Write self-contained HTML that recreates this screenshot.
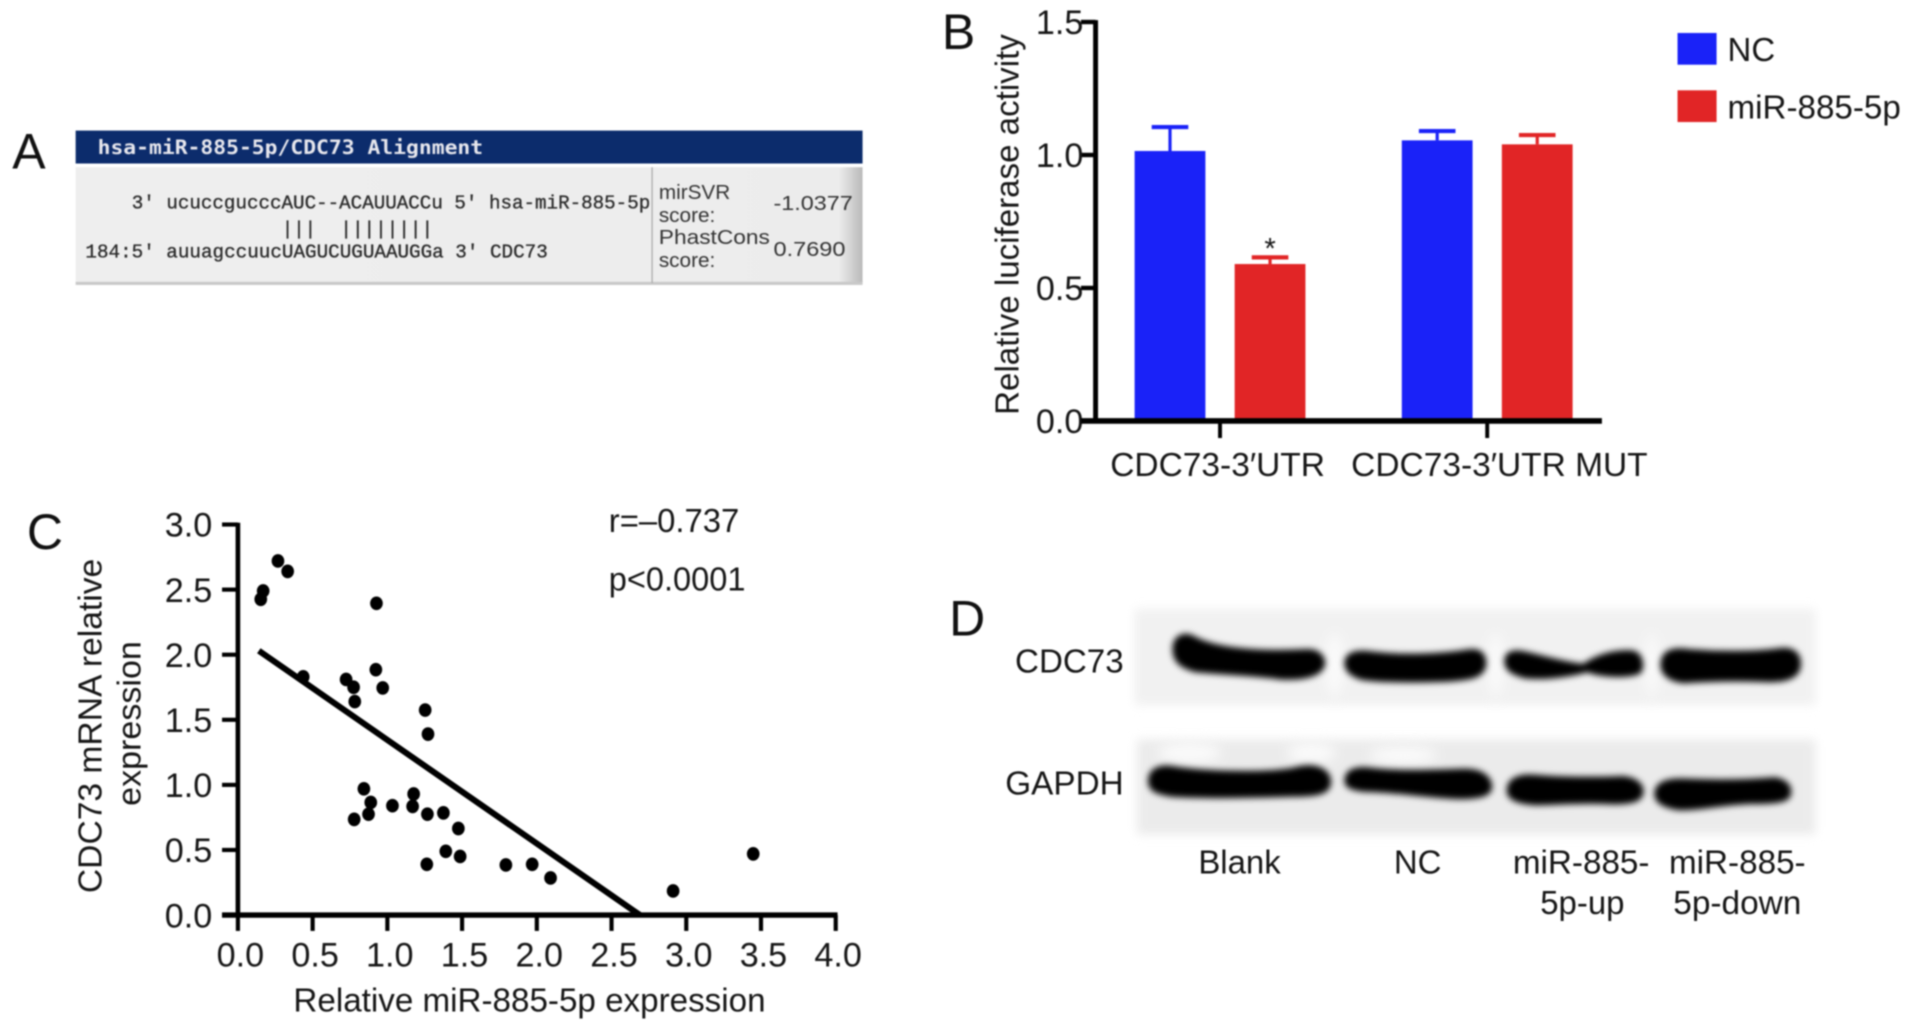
<!DOCTYPE html>
<html lang="en">
<head>
<meta charset="utf-8">
<title>CDC73 and miR-885-5p figure</title>
<style>
html,body{margin:0;padding:0;background:#fff;width:1913px;height:1031px;overflow:hidden}
svg{display:block;filter:blur(.7px)}
text{font-family:"Liberation Sans",Arial,sans-serif;fill:#161616}
.mono{font-family:"Liberation Mono","DejaVu Sans Mono",monospace;font-size:15.7px;fill:#2a2a2a;stroke:#2a2a2a;stroke-width:.25px;white-space:pre}
.small{font-size:17px;fill:#333}
.letter{font-size:41px;fill:#111}
.lab{font-size:27px}
.tk{font-size:28px}
</style>
</head>
<body>
<svg id="fig" xmlns="http://www.w3.org/2000/svg" width="1913" height="1031" viewBox="0 0 1568 845">
<defs>
<filter id="b0" x="-10%" y="-30%" width="120%" height="160%"><feGaussianBlur stdDeviation="4"/></filter>
<filter id="b1" x="-20%" y="-40%" width="140%" height="180%"><feGaussianBlur stdDeviation="2.6"/></filter>
<filter id="b2" x="-20%" y="-40%" width="140%" height="180%"><feGaussianBlur stdDeviation="5"/></filter>
<linearGradient id="panelGrad" x1="0" x2="1" y1="0" y2="0">
<stop offset="0" stop-color="#eeeeee"/><stop offset=".97" stop-color="#ececec"/><stop offset="1" stop-color="#b9b9b9"/>
</linearGradient>
</defs>

<!-- Panel A -->
<g id="panel-a">
<text class="letter" x="10" y="138">A</text>
<rect x="62" y="107" width="645" height="27" fill="#0c2c6c"/>
<text x="80" y="126" textLength="316" lengthAdjust="spacingAndGlyphs" style="font-family:'DejaVu Sans Mono','Liberation Mono',monospace;font-size:16px;font-weight:bold;fill:#e8e8ee">hsa-miR-885-5p/CDC73 Alignment</text>
<rect x="62" y="137" width="645" height="95" fill="url(#panelGrad)"/>
<rect x="62" y="231" width="645" height="2.5" fill="#c8c8c8"/>
<rect x="534" y="137" width="1" height="95" fill="#a8a8a8"/>
<text class="mono" x="108" y="171" textLength="425" lengthAdjust="spacingAndGlyphs">3' ucuccgucccAUC--ACAUUACCu 5' hsa-miR-885-5p</text>
<text class="mono" x="231" y="192" textLength="28" lengthAdjust="spacingAndGlyphs">|||</text>
<text class="mono" x="279" y="192" textLength="76" lengthAdjust="spacingAndGlyphs">||||||||</text>
<text class="mono" x="70" y="211" textLength="379" lengthAdjust="spacingAndGlyphs">184:5' auuagccuucUAGUCUGUAAUGGa 3' CDC73</text>
<text class="small" x="540" y="163">mirSVR</text>
<text class="small" x="540" y="182">score:</text>
<text class="small" x="540" y="200" textLength="91" lengthAdjust="spacingAndGlyphs">PhastCons</text>
<text class="small" x="540" y="219">score:</text>
<text class="small" x="634" y="172" textLength="65" lengthAdjust="spacingAndGlyphs">-1.0377</text>
<text class="small" x="634" y="210" textLength="59" lengthAdjust="spacingAndGlyphs">0.7690</text>
</g>

<!-- Panel B static -->
<text class="letter" x="772" y="40">B</text>
<text class="lab" transform="translate(835,184) rotate(-90)" text-anchor="middle" textLength="312" lengthAdjust="spacingAndGlyphs">Relative luciferase activity</text>
<g id="bar-chart"></g>
<g>
<rect x="1375" y="27" width="32" height="26" fill="#1a22f8"/>
<text class="lab" x="1416" y="50">NC</text>
<rect x="1375" y="74" width="32" height="26" fill="#e12526"/>
<text class="lab" x="1416" y="97" textLength="142" lengthAdjust="spacingAndGlyphs">miR-885-5p</text>
</g>

<!-- Panel C static -->
<text class="letter" x="22" y="450">C</text>
<text class="lab" transform="translate(83,595) rotate(-90)" text-anchor="middle" textLength="274" lengthAdjust="spacingAndGlyphs">CDC73 mRNA relative</text>
<text class="lab" transform="translate(115,593) rotate(-90)" text-anchor="middle" textLength="135" lengthAdjust="spacingAndGlyphs">expression</text>
<text class="lab" x="434" y="829" text-anchor="middle" textLength="387" lengthAdjust="spacingAndGlyphs">Relative miR-885-5p expression</text>
<text class="lab" x="499" y="436" textLength="107" lengthAdjust="spacingAndGlyphs">r=–0.737</text>
<text class="lab" x="499" y="484" textLength="112" lengthAdjust="spacingAndGlyphs">p&lt;0.0001</text>
<g id="scatter-chart"></g>

<!-- Panel D -->
<g id="panel-d">
<text class="letter" x="778" y="521">D</text>
<rect x="930" y="499" width="558" height="79" fill="#f1f1f1" filter="url(#b0)"/>
<rect x="932" y="606" width="556" height="78" fill="#ebebeb" filter="url(#b0)"/>
<g filter="url(#b2)" fill="#fbfbfb">
<ellipse cx="1094" cy="545" rx="7" ry="26"/><ellipse cx="1226" cy="545" rx="6" ry="26"/><ellipse cx="1354" cy="545" rx="5" ry="26"/>
<ellipse cx="975" cy="617" rx="26" ry="8"/><ellipse cx="1075" cy="617" rx="20" ry="8"/><ellipse cx="1150" cy="619" rx="28" ry="7"/>
</g>
<g filter="url(#b1)" fill="#030303" stroke="#030303" stroke-width="2">
<path d="M962 532C962 522 970 518 978 522C996 532 1030 535 1070 533C1082 532 1086 540 1085 545C1083 553 1070 557 1050 556C1030 553 1000 552 980 550C968 547 962 542 962 532Z"/>
<path d="M1103 545C1102 535 1112 533 1125 535C1150 538 1180 537 1205 533C1216 532 1218 540 1217 546C1215 555 1205 557 1180 558C1150 559 1125 558 1115 556C1107 553 1104 550 1103 545Z"/>
<path d="M1234 542C1234 534 1242 533 1250 535C1268 539 1285 544 1298 545C1308 538 1322 533 1338 534C1347 536 1347 548 1344 551C1336 555 1315 555 1301 550C1290 553 1268 557 1250 555C1238 552 1234 548 1234 542Z"/>
<path d="M1362 545C1362 533 1372 531 1385 533C1410 535 1440 535 1460 532C1472 531 1476 538 1475 546C1474 555 1464 559 1445 558C1420 557 1395 558 1380 559C1368 558 1362 552 1362 545Z"/>
<path d="M942 640C942 630 952 627 962 629C985 633 1045 635 1065 629C1080 626 1090 632 1090 641C1090 650 1080 652 1060 652C1030 653 990 654 960 652C948 650 942 648 942 640Z"/>
<path d="M1103 640C1103 631 1112 629 1122 630C1145 633 1175 632 1200 631C1216 631 1222 638 1222 645C1222 652 1212 654 1195 654C1170 653 1140 648 1118 648C1108 647 1103 645 1103 640Z"/>
<path d="M1236 648C1236 638 1246 635 1258 636C1280 638 1310 638 1330 637C1342 638 1347 644 1346 650C1345 657 1335 659 1315 658C1295 657 1275 659 1258 659C1244 658 1236 655 1236 648Z"/>
<path d="M1357 651C1357 642 1366 639 1378 639C1400 640 1430 640 1455 638C1465 640 1468 645 1467 651C1466 657 1455 658 1435 658C1410 659 1390 664 1375 663C1363 661 1357 657 1357 651Z"/>
</g>
<text class="lab" x="921" y="551" text-anchor="end" textLength="89" lengthAdjust="spacingAndGlyphs">CDC73</text>
<text class="lab" x="921" y="651" text-anchor="end" textLength="97" lengthAdjust="spacingAndGlyphs">GAPDH</text>
<text class="lab" x="1016" y="716" text-anchor="middle">Blank</text>
<text class="lab" x="1162" y="716" text-anchor="middle">NC</text>
<text class="lab" x="1296" y="716" text-anchor="middle" textLength="112" lengthAdjust="spacingAndGlyphs">miR-885-</text>
<text class="lab" x="1297" y="749" text-anchor="middle">5p-up</text>
<text class="lab" x="1424" y="716" text-anchor="middle" textLength="112" lengthAdjust="spacingAndGlyphs">miR-885-</text>
<text class="lab" x="1424" y="749" text-anchor="middle" textLength="105" lengthAdjust="spacingAndGlyphs">5p-down</text>
</g>
</svg>

<script>
// Panel B data
const barCategories = ['CDC73-3\u2032UTR', 'CDC73-3\u2032UTR MUT'];
const ncValues = [1.015, 1.055];
const ncErrors = [0.09, 0.035];
const mirValues = [0.59, 1.04];
const mirErrors = [0.025, 0.035];
const barYTicks = [0, 0.5, 1, 1.5];
const barYTickLabels = ['0.0', '0.5', '1.0', '1.5'];

// Panel C data
const scatterX = [0.153,0.169,0.268,0.333,0.927,0.437,0.724,0.774,0.782,0.923,0.969,1.253,1.272,0.843,0.889,0.874,0.778,1.034,1.176,1.169,1.268,1.375,1.475,1.391,1.487,1.264,1.793,1.969,2.092,2.912,3.448];
const scatterY = [2.426,2.49,2.72,2.64,2.395,1.83,1.81,1.75,1.64,1.885,1.745,1.575,1.39,0.97,0.865,0.775,0.735,0.84,0.93,0.835,0.775,0.785,0.665,0.49,0.45,0.39,0.385,0.39,0.285,0.185,0.47];
const fitX = [0.14, 2.69];
const fitY = [2.03, 0];
const scatterXTicks = [0, 0.5, 1, 1.5, 2, 2.5, 3, 3.5, 4];
const scatterXTickLabels = ['0.0','0.5','1.0','1.5','2.0','2.5','3.0','3.5','4.0'];
const scatterYTicks = [0, 0.5, 1, 1.5, 2, 2.5, 3];
const scatterYTickLabels = ['0.0','0.5','1.0','1.5','2.0','2.5','3.0'];

const NS = 'http://www.w3.org/2000/svg';
function make(parent, tag, attrs, txt) {
  const el = document.createElementNS(NS, tag);
  for (const k in attrs) el.setAttribute(k, attrs[k]);
  if (txt !== undefined) el.textContent = txt;
  parent.appendChild(el);
  return el;
}
function line(parent, x1, y1, x2, y2, w, color) {
  return make(parent, 'line', {x1: x1, y1: y1, x2: x2, y2: y2, stroke: color || '#000', 'stroke-width': w});
}

// Panel B axes
const barG = document.getElementById('bar-chart');
const yB = v => 345 - v * 218;
const groupX = i => 1000 + i * 219;
const barOffset = 41, barW = 58, capW = 30;

function drawBar(cat, offset, value, err, color, seriesName) {
  const cx = groupX(cat) + offset;
  const stem = line(barG, cx, yB(value), cx, yB(value + err), 2.6, color);
  
  
  const cap = line(barG, cx - capW / 2, yB(value + err), cx + capW / 2, yB(value + err), 3.4, color);
  
  
  const bar = make(barG, 'rect', {x: cx - barW / 2, y: yB(value), width: barW, height: yB(0) - yB(value), fill: color});
  
  
}
barCategories.forEach(function (c, i) {
  drawBar(i, -barOffset, ncValues[i], ncErrors[i], '#1a22f8', 'nc');
  drawBar(i, barOffset, mirValues[i], mirErrors[i], '#e12526', 'mir-885-5p');
  const tick = line(barG, groupX(i), 345, groupX(i), 359, 3.2);
  
  
  const lab = make(barG, 'text', {x: groupX(i) + (i ? 10 : -2), y: 390, 'text-anchor': 'middle', 'class': 'lab', textLength: i ? 243 : 176, lengthAdjust: 'spacingAndGlyphs'}, c);
  
  
});
const star = make(barG, 'text', {x: groupX(0) + barOffset, y: 212, 'text-anchor': 'middle', style: 'font-size:24px'}, '*');


barYTicks.forEach(function (t, i) {
  const tick = line(barG, 886, yB(t), 898, yB(t), 3.6);
  
  
  const lab = make(barG, 'text', {x: 888, y: yB(t) + 10, 'text-anchor': 'end', 'class': 'tk'}, barYTickLabels[i]);
  
  
});
const barYAxis = line(barG, 898, yB(1.5) - 1.5, 898, yB(0) + 2, 4);


const barXAxis = line(barG, 886, yB(0), 1313, yB(0), 4.6);



// Panel C axes
const scG = document.getElementById('scatter-chart');
const xC = v => 195 + v * 122.5;
const yC = v => 750 - v * 106.7;

scatterXTicks.forEach(function (t, i) {
  const tick = line(scG, xC(t), 750, xC(t), 763, 3.4);
  
  
  const lab = make(scG, 'text', {x: xC(t) + 2, y: 792, 'text-anchor': 'middle', 'class': 'tk'}, scatterXTickLabels[i]);
  
  
});
scatterYTicks.forEach(function (t, i) {
  const tick = line(scG, 182, yC(t), 195, yC(t), 3.4);
  
  
  const lab = make(scG, 'text', {x: 174, y: yC(t) + 10, 'text-anchor': 'end', 'class': 'tk'}, scatterYTickLabels[i]);
  
  
});
const scYAxis = line(scG, xC(0), yC(3) - 1.5, xC(0), yC(0) + 2, 3.8);


const scXAxis = line(scG, 182, yC(0), xC(4) + 1.5, yC(0), 4.4);


const fit = line(scG, xC(fitX[0]), yC(fitY[0]), xC(fitX[1]), yC(fitY[1]), 5);


scatterX.forEach(function (x, i) {
  const dot = make(scG, 'ellipse', {cx: xC(x), cy: yC(scatterY[i]), rx: 5.2, ry: 5.6, fill: '#000'});
  
  
});
</script>
</body>
</html>
